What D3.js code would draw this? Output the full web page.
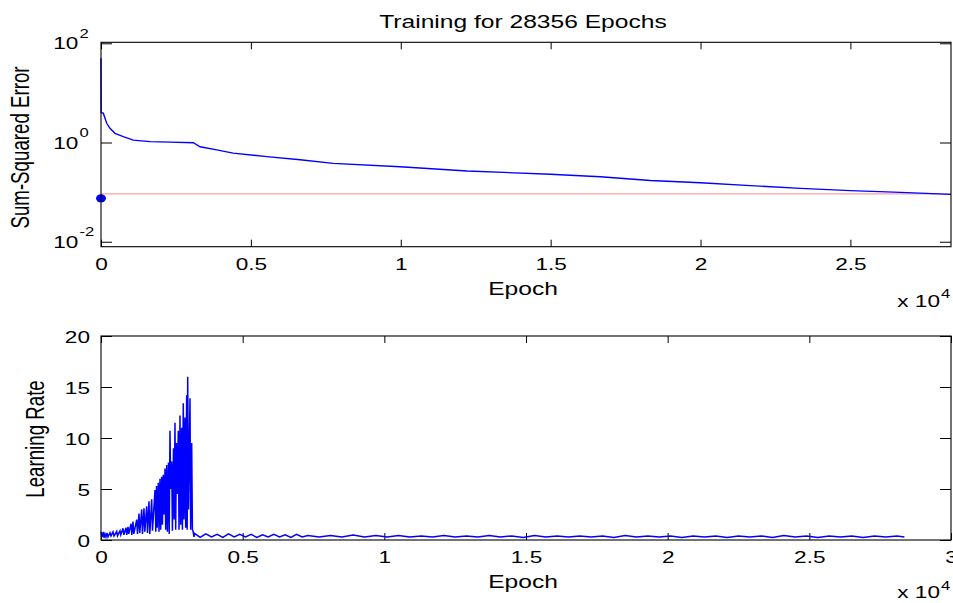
<!DOCTYPE html>
<html>
<head>
<meta charset="utf-8">
<script src="https://cdn.jsdelivr.net/npm/d3@7"></script>
<style>
  body { margin: 0; background: #fff; }
  svg { display: block; }
</style>
</head>
<body>
<svg id="chart" width="953" height="603"></svg>
<script>
// ---- data ----
const titleText = "Training for 28356 Epochs";
const totalEpochs = 28356;

// sum-squared error (log axis)
const errEpoch = [0, 5, 77, 190, 300, 467, 744, 1078, 1636, 2300, 3081, 3305, 3862, 4406, 5531, 6643, 7744, 9981, 12217, 14988, 16657, 18326, 19995, 21664, 23333, 25002, 26671, 28356];
const errValue = [50, 4.0, 3.9, 2.44, 1.93, 1.53, 1.31, 1.12, 1.04, 1.02, 0.99, 0.82, 0.71, 0.61, 0.52, 0.45, 0.38, 0.325, 0.266, 0.23, 0.204, 0.171, 0.155, 0.135, 0.119, 0.107, 0.099, 0.090];
const errGoal = 0.092;
const errMarker = { epoch: 0, value: 0.075 };

// learning rate
const lrEpoch = [0, 35, 81, 106, 141, 176, 212, 247, 318, 353, 424, 459, 554, 582, 671, 699, 776, 805, 882, 910,
  953, 981, 1059, 1087, 1129, 1157, 1260, 1288, 1341, 1369, 1436, 1464, 1517, 1546, 1613, 1641, 1694, 1722, 1789, 1817,
  1906, 1934, 1959, 1983, 2022, 2047, 2082, 2107, 2142, 2167, 2199, 2224, 2259, 2283, 2319, 2343, 2382, 2407, 2435, 2460,
  2495, 2520, 2559, 2583, 2611, 2636, 2664, 2689, 2728, 2753, 2788, 2813, 2848, 2873, 2904, 2929, 2964, 2989, 3024, 3042,
  3060, 3088, 3141, 3165, 3201, 3226, 3247, 3282,
  3300, 3500, 3700, 3900, 4100, 4300, 4500, 4700, 4900, 5100, 5300, 5500, 5700, 5900, 6100, 6300, 6500, 6700, 6900, 7100,
  7300, 7700, 8100, 8500, 8900, 9300, 9700, 10100, 10500, 10900,
  11300, 11700, 12100, 12500, 12900, 13300, 13700, 14100, 14500, 14900, 15300, 15700, 16100, 16500, 16900, 17300, 17700, 18100, 18500, 18900,
  19300, 19700, 20100, 20500, 20900, 21300, 21700, 22100, 22500, 22900, 23300, 23700, 24100, 24500, 24900, 25300, 25700, 26100, 26500, 26900,
  27300, 27700, 28100, 28356];
const lrValue = [0.8, 0.3, 0.8, 0.2, 0.6, 0.3, 0.7, 0.3, 0.7, 0.4, 0.8, 0.4, 0.85, 0.4, 0.9, 0.5, 1.15, 0.5, 1.2, 0.5,
  1.3, 0.6, 1.6, 0.5, 1.8, 0.6, 2.0, 0.6, 2.6, 0.7, 3.0, 0.6, 3.1, 0.8, 3.3, 0.7, 3.8, 0.6, 4.0, 0.9,
  4.9, 0.8, 5.3, 1.2, 5.6, 0.8, 6.0, 1.0, 6.2, 1.5, 6.4, 2.5, 7.0, 1.0, 7.35, 0.8, 7.6, 0.6, 10.7, 5.0,
  7.7, 0.9, 9.0, 2.0, 11.5, 1.0, 9.5, 4.5, 10.7, 1.0, 12.2, 1.5, 11.0, 1.0, 13.4, 2.0, 12.0, 1.2, 14.2, 1.0,
  16.0, 3.0, 13.9, 1.0, 9.5, 1.0, 0.9, 0.3,
  0.65, 0.25, 0.6, 0.3, 0.55, 0.25, 0.6, 0.3, 0.55, 0.3, 0.55, 0.25, 0.5, 0.3, 0.55, 0.3, 0.5, 0.25, 0.55, 0.3,
  0.45, 0.3, 0.45, 0.3, 0.5, 0.3, 0.45, 0.3, 0.45, 0.3,
  0.4, 0.3, 0.45, 0.3, 0.4, 0.3, 0.45, 0.3, 0.4, 0.25, 0.45, 0.3, 0.4, 0.3, 0.4, 0.3, 0.4, 0.25, 0.45, 0.3,
  0.4, 0.3, 0.4, 0.25, 0.4, 0.3, 0.4, 0.25, 0.4, 0.3, 0.4, 0.25, 0.45, 0.3, 0.4, 0.25, 0.4, 0.3, 0.4, 0.25,
  0.4, 0.3, 0.4, 0.3];

const xTicksTop = [0, 5000, 10000, 15000, 20000, 25000];
const xTicksBottom = [0, 5000, 10000, 15000, 20000, 25000, 30000];
const errTickExp = [-2, 0, 2];
const lrTicks = [0, 5, 10, 15, 20];

// ---- layout ----
const SX = 1.33;            // text in the picture is stretched sideways
const FONT = "'Liberation Sans', Arial, Helvetica, sans-serif";
const svg = d3.select("#chart");

const x1 = d3.scaleLinear().domain([0, totalEpochs]).range([101, 951]);
const y1 = d3.scaleLog().domain([Math.pow(10, -2.1), Math.pow(10, 2.02)]).range([246.7, 42.3]);
const x2 = d3.scaleLinear().domain([0, 30000]).range([101, 951]);
const y2 = d3.scaleLinear().domain([0, 20]).range([540, 336]);

function txt(x, y, s, size, anchor, rot) {
  return svg.append("text")
    .attr("transform", `translate(${x},${y}) scale(${SX},1)` + (rot ? ` rotate(${rot})` : ""))
    .attr("text-anchor", anchor || "middle")
    .style("font-family", FONT)
    .style("font-size", size + "px")
    .style("fill", "#000")
    .text(s);
}

function frame(x, y) {
  const [xa, xb] = x.range(), [ya, yb] = y.range();
  svg.append("rect")
    .attr("x", xa).attr("y", yb)
    .attr("width", xb - xa).attr("height", ya - yb)
    .attr("fill", "none").attr("stroke", "#000").attr("stroke-width", 1.1);
}

function xAxes(x, y, ticks) {
  const [ya, yb] = y.range();
  const b = svg.append("g").attr("transform", `translate(0,${ya})`)
    .call(d3.axisBottom(x).tickValues(ticks).tickSize(-7).tickFormat(d => d / 10000));
  b.select(".domain").remove();
  b.selectAll("text")
    .attr("y", 0).attr("dy", 0)
    .attr("transform", `translate(0,23.3) scale(${SX},1)`)
    .style("font-family", FONT).style("font-size", "17px").attr("fill", "#000");
  const t = svg.append("g").attr("transform", `translate(0,${yb})`)
    .call(d3.axisTop(x).tickValues(ticks).tickSize(-7).tickFormat(""));
  t.select(".domain").remove();
}

function yAxes(x, y, ticks, fmt) {
  const [xa, xb] = x.range();
  const l = svg.append("g").attr("transform", `translate(${xa},0)`)
    .call(d3.axisLeft(y).tickValues(ticks).tickSize(-11).tickFormat(fmt || ""));
  l.select(".domain").remove();
  l.selectAll("text")
    .attr("x", 0).attr("dy", 0)
    .attr("transform", `translate(-11,6) scale(${SX},1)`)
    .style("font-family", FONT).style("font-size", "17px").attr("fill", "#000");
  const r = svg.append("g").attr("transform", `translate(${xb},0)`)
    .call(d3.axisRight(y).tickValues(ticks).tickSize(-11).tickFormat(""));
  r.select(".domain").remove();
}

function multiplier(yBase) {
  txt(940, yBase, "x 10", 17, "end");
  txt(941, yBase - 8.5, "4", 12.5, "start");
}

// ---- top panel: sum-squared error ----
xAxes(x1, y1, xTicksTop);
yAxes(x1, y1, errTickExp.map(e => Math.pow(10, e)), null);
errTickExp.forEach(e => {
  const yy = y1(Math.pow(10, e));
  txt(78.3, yy + 6, "10", 17, "end");
  txt(79.5, yy - 5.5, String(e), 12.5, "start");
});

svg.append("line")
  .attr("x1", x1(0)).attr("x2", x1(totalEpochs))
  .attr("y1", y1(errGoal)).attr("y2", y1(errGoal))
  .attr("stroke", "#ff9e9e").attr("stroke-width", 1.2);

svg.append("path")
  .datum(errEpoch.map((e, i) => [e, errValue[i]]))
  .attr("fill", "none").attr("stroke", "#0000ff").attr("stroke-width", 1.4)
  .attr("d", d3.line().x(d => x1(d[0])).y(d => y1(d[1])));

svg.append("ellipse")
  .attr("cx", x1(errMarker.epoch)).attr("cy", y1(errMarker.value))
  .attr("rx", 5).attr("ry", 4).attr("fill", "#0000ff");

frame(x1, y1);
txt(523, 27.7, titleText, 18.5);
txt(523, 295, "Epoch", 18.5);
txt(29.3, 147.5, "Sum-Squared Error", 18.7, "middle", -90);
multiplier(306.7);

// ---- bottom panel: learning rate ----
xAxes(x2, y2, xTicksBottom);
yAxes(x2, y2, lrTicks, d => d);

svg.append("path")
  .datum(lrEpoch.map((e, i) => [e, lrValue[i]]))
  .attr("fill", "none").attr("stroke", "#0000ff").attr("stroke-width", 1.5)
  .attr("d", d3.line().x(d => x2(d[0])).y(d => y2(d[1])));

frame(x2, y2);
txt(523, 588, "Epoch", 18.5);
txt(44, 439, "Learning Rate", 18.7, "middle", -90);
multiplier(598.3);
</script>
</body>
</html>
